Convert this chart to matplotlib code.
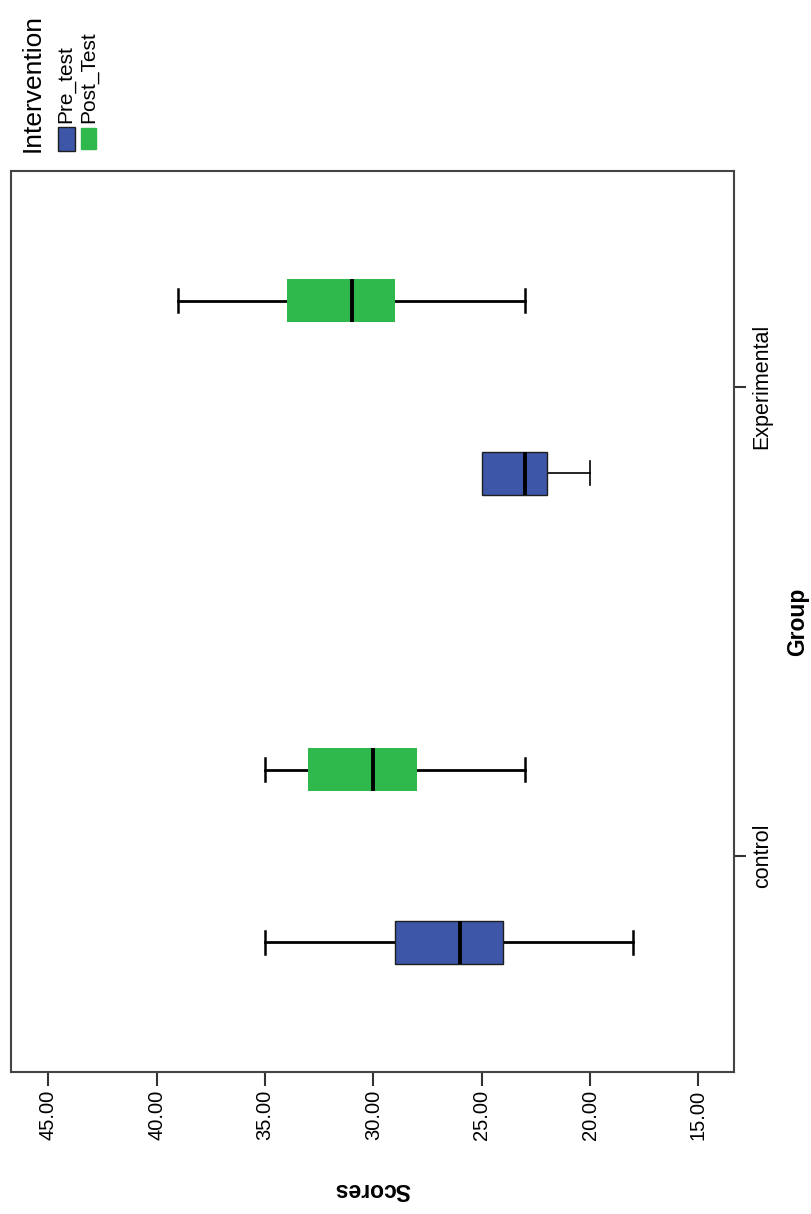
import matplotlib.pyplot as plt
from matplotlib.patches import Rectangle

# --------------------------------------------------------
# Data (SPSS boxplot)
# --------------------------------------------------------

GROUPS = ["control", "Experimental"]
INTERVENTIONS = ["Pre_test", "Post_Test"]
SCORE_TICKS = [15, 20, 25, 30, 35, 40, 45]

# whisker low, q1, median, q3, whisker high - one row per group
PRE_TEST = [[18, 24, 26, 29, 35],
            [20, 22, 23, 25, 25]]
POST_TEST = [[23, 28, 30, 33, 35],
             [23, 29, 31, 34, 39]]

BLUE = "#3d56a8"
GREEN = "#2fb84b"

plt.rcParams["font.family"] = ["Liberation Sans", "DejaVu Sans"]


def to_stats(rows):
    return [dict(whislo=r[0], q1=r[1], med=r[2], q3=r[3], whishi=r[4], fliers=[])
            for r in rows]


fig = plt.figure(figsize=(8.12, 12.14), dpi=100)
ax = fig.add_axes([0.01355, 0.1172, 0.8908, 0.7419])

# --------------------------------------------------------
# Boxes
# --------------------------------------------------------

series = [
    (PRE_TEST, BLUE, "#1e1e1e", 1.0, -0.184),
    (POST_TEST, GREEN, GREEN, 0.0, 0.184),
]

for rows, face, edge, elw, offset in series:
    positions = [i + offset for i in range(len(GROUPS))]
    res = ax.bxp(
        to_stats(rows),
        positions=positions,
        widths=0.092,
        orientation="horizontal",
        patch_artist=True,
        showfliers=False,
        manage_ticks=False,
        capwidths=0.05,
        boxprops=dict(facecolor=face, edgecolor=edge, linewidth=elw),
        whiskerprops=dict(color="black", linewidth=2.0),
        capprops=dict(color="black", linewidth=1.8),
        medianprops=dict(color="black", linewidth=2.8, solid_capstyle="butt"),
    )
    for line in res["whiskers"] + res["caps"]:
        line.set_zorder(1)

    # no cap where the whisker has zero length
    for k, r in enumerate(rows):
        if r[0] == r[1]:
            res["caps"][2 * k].set_visible(False)
        if r[4] == r[3]:
            res["caps"][2 * k + 1].set_visible(False)

    # the experimental pre-test whisker is drawn thinner in the original
    if rows is PRE_TEST:
        for line in res["whiskers"][2:] + res["caps"][2:]:
            line.set_linewidth(1.2)

# --------------------------------------------------------
# Axes
# --------------------------------------------------------

ax.set_xlim(46.72, 13.34)
ax.set_ylim(-0.46, 1.46)

ax.set_xticks(SCORE_TICKS)
ax.set_xticklabels([f"{t:.2f}" for t in SCORE_TICKS], rotation=90, fontsize=14.5)

ax.yaxis.tick_right()
ax.set_yticks(range(len(GROUPS)))
ax.set_yticklabels(GROUPS, rotation=90, fontsize=15.5, va="center")

ax.tick_params(axis="x", direction="out", length=10, width=1.5, color="#333333", pad=3)
ax.tick_params(axis="y", direction="out", length=8.5, width=1.5, color="#333333", pad=4)

for spine in ax.spines.values():
    spine.set_color("#444444")
    spine.set_linewidth(1.5)

ax.set_xlabel("Scores", rotation=180, fontsize=16.5, fontweight="bold")
ax.xaxis.set_label_coords(0.5, -0.118)

ax.yaxis.set_label_position("right")
ax.set_ylabel("Group", rotation=90, fontsize=16.5, fontweight="bold")
ax.yaxis.set_label_coords(1.072, 0.5)

# --------------------------------------------------------
# Legend (rotated, top left)
# --------------------------------------------------------

W, H = 812, 1214

fig.text(33 / W, 1 - 152 / H, "Intervention", rotation=90,
         ha="center", va="bottom", fontsize=19)

swatches = [
    (INTERVENTIONS[0], BLUE, "#1e1e1e", 58, 127, 17, 24, 66),
    (INTERVENTIONS[1], GREEN, GREEN, 81, 128, 15, 21, 89),
]
for label, face, edge, x, y, w, h, tx in swatches:
    fig.patches.append(Rectangle((x / W, 1 - (y + h) / H), w / W, h / H,
                                 transform=fig.transFigure, facecolor=face,
                                 edgecolor=edge, linewidth=1.0))
    fig.text(tx / W, 1 - 123 / H, label, rotation=90,
             ha="center", va="bottom", fontsize=15)

fig.savefig("out.png", dpi=100)
